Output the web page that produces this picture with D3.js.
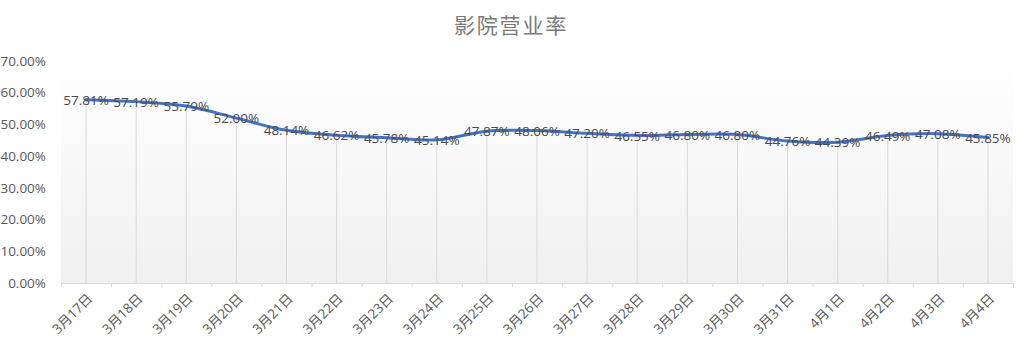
<!DOCTYPE html>
<html>
<head>
<meta charset="utf-8">
<script src="https://cdn.jsdelivr.net/npm/d3@7/dist/d3.min.js"></script>
<style>
  body { margin: 0; background: #fff; }
  svg { display: block; }
  text { font-family: "Open Sans", "Noto Sans CJK SC", sans-serif; }
</style>
</head>
<body>
<svg id="chart" width="1022" height="351"></svg>
<script>
const title = "影院营业率";
const categories = ["3月17日","3月18日","3月19日","3月20日","3月21日","3月22日","3月23日","3月24日","3月25日","3月26日","3月27日","3月28日","3月29日","3月30日","3月31日","4月1日","4月2日","4月3日","4月4日"];
const values = [57.81, 57.19, 55.79, 52.00, 48.14, 46.62, 45.78, 45.14, 47.87, 48.06, 47.20, 46.55, 46.80, 46.80, 44.76, 44.39, 46.49, 47.08, 45.85];
const yTicks = [0, 10, 20, 30, 40, 50, 60, 70];

const svg = d3.select("#chart");
const margin = {left: 61, right: 9, top: 61, bottom: 68};
const W = 1022, H = 351;
const x0 = margin.left, x1 = W - margin.right, y0 = H - margin.bottom, y1 = margin.top;

const x = d3.scaleBand().domain(categories).range([x0, x1]).padding(0);
const y = d3.scaleLinear().domain([0, 70]).range([y0, y1]);
const cx = d => x(d) + x.bandwidth() / 2;

// gradient background
const defs = svg.append("defs");
const grad = defs.append("linearGradient").attr("id", "bg").attr("x1", 0).attr("y1", 0).attr("x2", 0).attr("y2", 1);
grad.append("stop").attr("offset", "0%").attr("stop-color", "#ffffff");
grad.append("stop").attr("offset", "100%").attr("stop-color", "#f0f0f0");
svg.append("rect").attr("x", x0).attr("y", y1).attr("width", x1 - x0).attr("height", y0 - y1).attr("fill", "url(#bg)");

// title
svg.append("text").attr("x", 511).attr("y", 33).attr("text-anchor", "middle")
  .attr("font-size", 21).attr("letter-spacing", 1.8).attr("fill", "#7a7a7a")
  .style("font-family", "'Noto Sans CJK SC', sans-serif").text(title);

// y axis labels
svg.append("g").selectAll("text").data(yTicks).join("text")
  .attr("x", 46).attr("y", d => y(d)).attr("dy", "0.35em").attr("text-anchor", "end")
  .attr("font-size", 13.5).attr("fill", "#595959")
  .text(d => d.toFixed(2) + "%");

// drop lines
svg.append("g").selectAll("line").data(categories).join("line")
  .attr("x1", d => cx(d)).attr("x2", d => cx(d))
  .attr("y1", (d, i) => y(values[i])).attr("y2", y0)
  .attr("stroke", "#d9d9d9").attr("stroke-width", 1);

// x axis
const xAxis = d3.axisBottom(x).tickSize(0).tickFormat("");
const gx = svg.append("g").attr("transform", `translate(0,${y0})`).call(xAxis);
gx.select(".domain").attr("stroke", "#d9d9d9");
const bounds = categories.map(c => x(c)).concat([x1]);
svg.append("g").selectAll("line").data(bounds).join("line")
  .attr("x1", d => d + 0.5).attr("x2", d => d + 0.5).attr("y1", y0).attr("y2", y0 + 4)
  .attr("stroke", "#d9d9d9");

// x labels
svg.append("g").selectAll("text").data(categories).join("text")
  .attr("transform", d => `translate(${cx(d) + 4},${y0 + 13}) rotate(-45)`)
  .attr("text-anchor", "end").attr("dy", "0.35em")
  .attr("font-size", 13.5).attr("fill", "#595959")
  .text(d => d);

// line
const line = d3.line().x((d, i) => cx(categories[i])).y(d => y(d)).curve(d3.curveCatmullRom.alpha(0.5));
svg.append("path").datum(values).attr("d", line).attr("fill", "none")
  .attr("stroke", "#4472c4").attr("stroke-width", 3).attr("stroke-linecap", "round");

// data labels
svg.append("g").selectAll("text").data(values).join("text")
  .attr("x", (d, i) => cx(categories[i])).attr("y", d => y(d)).attr("dy", "0.38em")
  .attr("text-anchor", "middle").attr("font-size", 13.5).attr("fill", "#4a4a4a")
  .text(d => d.toFixed(2) + "%");
</script>
</body>
</html>
